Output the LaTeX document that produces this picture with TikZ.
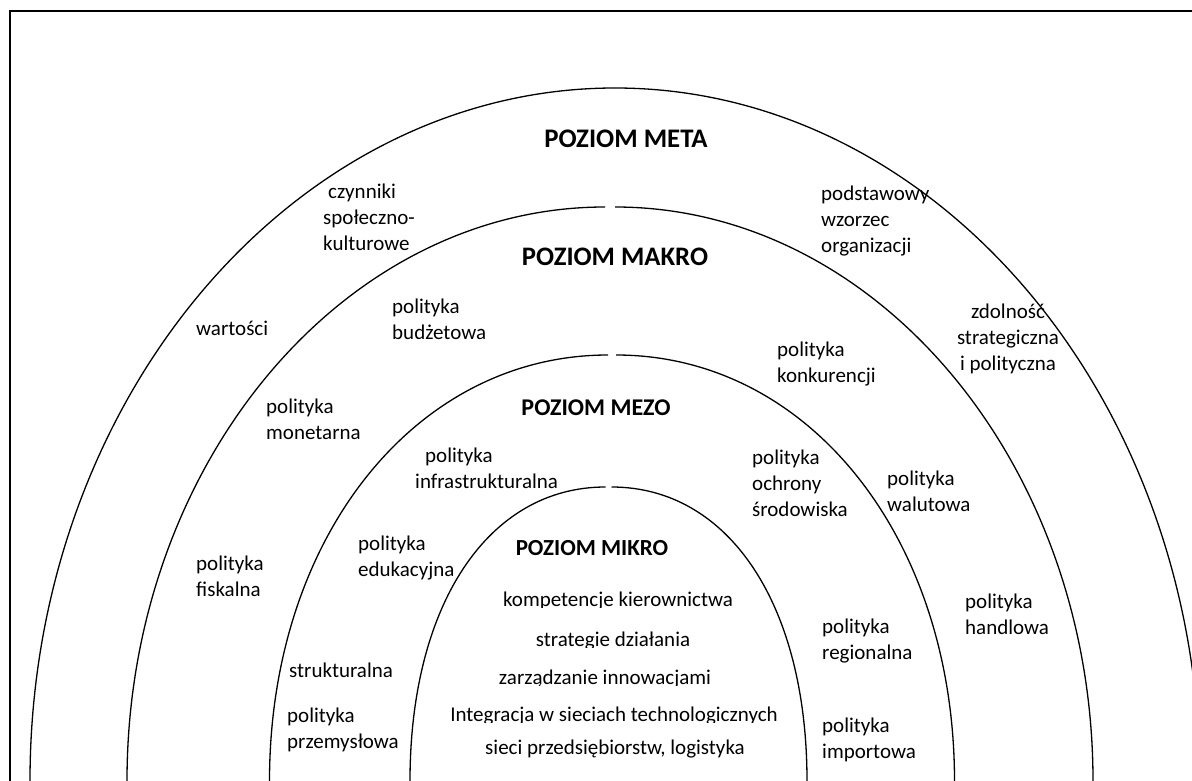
\documentclass[tikz,border=0pt]{standalone}
\usepackage{fontspec}
\setmainfont{Carlito}
\newcommand{\twohalfarcs}[5]{% cx, top, rx, k, gap
  \draw[arcline] ({#1-#3},781) .. controls ({#1-#3},{781-#4*(781-#2)}) and ({#1-#5-#4*(#3-#5)},#2) .. ({#1-#5},#2);
  \draw[arcline] ({#1+#3},781) .. controls ({#1+#3},{781-#4*(781-#2)}) and ({#1+#5+#4*(#3-#5)},#2) .. ({#1+#5},#2);
}
\begin{document}
\begin{tikzpicture}[x=1pt,y=-1pt,
  arcline/.style={line width=1.3pt},
  frameline/.style={line width=2pt},
  title/.style={inner sep=0pt, font=\fontsize{#1}{30}\selectfont\bfseries},
  lblL/.style={inner sep=0pt, anchor=north west, align=left, font=\fontsize{21}{26}\selectfont},
  lblC/.style={inner sep=0pt, anchor=north, align=center, font=\fontsize{21}{26}\selectfont},
  mikro/.style={inner sep=0pt, anchor=base, font=\fontsize{21}{26}\selectfont}]
\useasboundingbox (0,0) rectangle (1192,781);
\clip (0,0) rectangle (1192,781);
\fill[white] (0,0) rectangle (1192,781);
\draw[frameline] (9.5,800) -- (9.5,11.5) -- (1210,11.5);
% arcs
\twohalfarcs{615}{88}{585}{0.55}{0}
\twohalfarcs{610}{207}{483}{0.55}{5}
\twohalfarcs{612}{355}{342.5}{0.57}{4}
\twohalfarcs{608.5}{487}{198.5}{0.6}{3}
% titles
\node[title=26.8] (meta) at (626,139) {POZIOM META};
\node[title=26.7] (makro) at (615,257) {POZIOM MAKRO};
\node[title=24] (mezo) at (596,408) {POZIOM MEZO};
\node[title=23] (mikro) at (592,548) {POZIOM MIKRO};
% meta labels
\node[lblL] (czyn) at (323,180) {\strut\hspace{5pt}czynniki\\społeczno-\\kulturowe};
\node[lblL] (podst) at (821,182) {\strut podstawowy\\wzorzec\\organizacji};
\node[lblL] (wart) at (196,317) {\strut wartości};
\node[lblC] (zdol) at (1008,300) {\strut zdolność\\strategiczna\\i polityczna};
% makro labels
\node[lblL] (budz) at (392,295) {\strut polityka\\budżetowa};
\node[lblL] (konk) at (777,338) {\strut polityka\\konkurencji};
\node[lblL] (mone) at (266,395) {\strut polityka\\monetarna};
\node[lblL] (walu) at (887,467) {\strut polityka\\walutowa};
\node[lblL] (fisk) at (196,552) {\strut polityka\\fiskalna};
\node[lblL] (hand) at (965,590) {\strut polityka\\handlowa};
% mezo labels
\node[lblL] (infra) at (415,444) {\strut\hspace{10pt}polityka\\infrastrukturalna};
\node[lblL] (ochr) at (752,446) {\strut polityka\\ochrony\\środowiska};
\node[lblL] (eduk) at (358,532) {\strut polityka\\edukacyjna};
\node[lblL] (strukt) at (289,659) {\strut strukturalna};
\node[lblL] (przem) at (287,704) {\strut polityka\\przemysłowa};
\node[lblL] (regio) at (822,615) {\strut polityka\\regionalna};
\node[lblL] (impo) at (822,714) {\strut polityka\\importowa};
% mikro labels
\begin{scope}
\clip (400,560) rectangle (820,607.5);
\node[mikro] (komp) at (618,606.7) {kompetencje kierownictwa};
\end{scope}
\begin{scope}
\clip (400,615) rectangle (820,647);
\node[mikro] (strat) at (613,646) {strategie działania};
\end{scope}
\begin{scope}
\clip (400,655) rectangle (820,685);
\node[mikro] (zarz) at (605,684.3) {zarządzanie innowacjami};
\end{scope}
\begin{scope}
\clip (400,692) rectangle (820,722.5);
\node[mikro] (integ) at (614,721.7) {Integracja w sieciach technologicznych};
\end{scope}
\node[mikro] (sieci) at (615,754) {sieci przedsiębiorstw, logistyka};
\end{tikzpicture}
\end{document}
